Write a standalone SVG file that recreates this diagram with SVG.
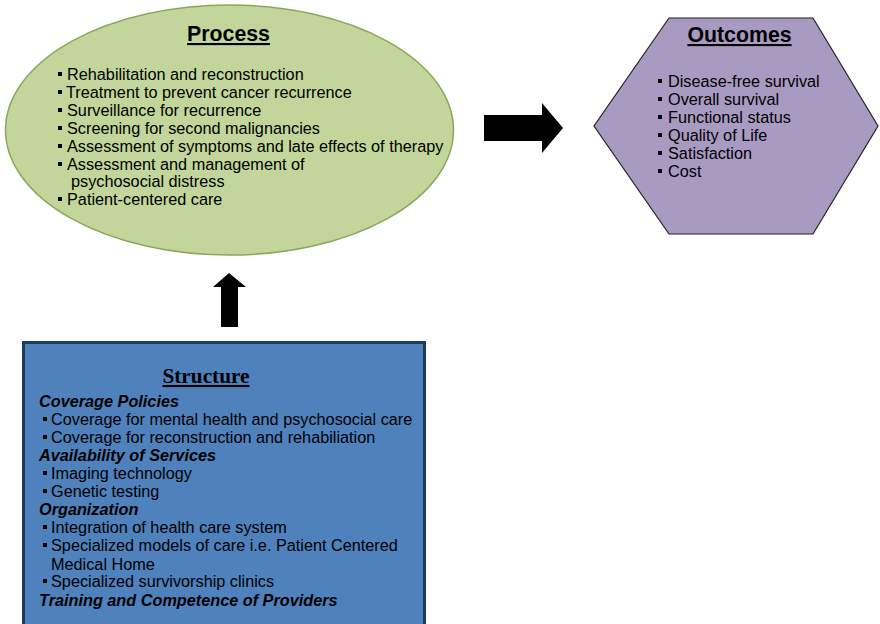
<svg xmlns="http://www.w3.org/2000/svg" width="880" height="624" viewBox="0 0 880 624">
<style>
.t{font-family:"Liberation Sans",Arial,sans-serif;font-size:16.25px;fill:#000}
.h{font-family:"Liberation Sans",Arial,sans-serif;font-size:21.3px;font-weight:bold;text-decoration:underline;fill:#000}
.hs{font-family:"Liberation Serif","Times New Roman",serif;font-size:21.3px;font-weight:bold;text-decoration:underline;fill:#000}
.bi{font-family:"Liberation Sans",Arial,sans-serif;font-size:16.25px;font-weight:bold;font-style:italic;fill:#000}
.b{fill:#000}
</style>
<rect width="880" height="624" fill="#fff"/>
<g id="process">
<ellipse cx="229.5" cy="130" rx="224" ry="125" fill="#c2d69b" stroke="#8ba65d" stroke-width="1.5"/>
<text class="h" x="228.5" y="41" text-anchor="middle">Process</text>
<rect class="b" x="58" y="72" width="4" height="4"/><text class="t" x="67" y="80">Rehabilitation and reconstruction</text>
<rect class="b" x="58" y="90" width="4" height="4"/><text class="t" x="66" y="98">Treatment to prevent cancer recurrence</text>
<rect class="b" x="58" y="108" width="4" height="4"/><text class="t" x="67" y="116">Surveillance for recurrence</text>
<rect class="b" x="58" y="126" width="4" height="4"/><text class="t" x="67" y="134">Screening for second malignancies</text>
<rect class="b" x="58" y="144" width="4" height="4"/><text class="t" x="67" y="152">Assessment of symptoms and late effects of therapy</text>
<rect class="b" x="58" y="162" width="4" height="4"/><text class="t" x="67" y="170">Assessment and management of</text>
<text class="t" x="71" y="187">psychosocial distress</text>
<rect class="b" x="58" y="197" width="4" height="4"/><text class="t" x="67" y="205">Patient-centered care</text>
</g>
<g id="outcomes">
<polygon points="669,18 813,18 878,126 813,234 669,234 594,126" fill="#a99ac2" stroke="#222" stroke-width="1.2"/>
<text class="h" x="739.5" y="42" text-anchor="middle">Outcomes</text>
<rect class="b" x="658" y="79" width="4" height="4"/><text class="t" x="668" y="87">Disease-free survival</text>
<rect class="b" x="658" y="97" width="4" height="4"/><text class="t" x="668" y="105">Overall survival</text>
<rect class="b" x="658" y="115" width="4" height="4"/><text class="t" x="668" y="123">Functional status</text>
<rect class="b" x="658" y="133" width="4" height="4"/><text class="t" x="668" y="141">Quality of Life</text>
<rect class="b" x="658" y="151" width="4" height="4"/><text class="t" x="668" y="159">Satisfaction</text>
<rect class="b" x="658" y="169" width="4" height="4"/><text class="t" x="668" y="177">Cost</text>
</g>
<g id="structure">
<rect x="23.5" y="342.5" width="401" height="290" fill="#4f81bd" stroke="#1f3a5f" stroke-width="3"/>
<text class="hs" x="206" y="383" text-anchor="middle">Structure</text>
<text class="bi" x="39" y="407">Coverage Policies</text>
<rect class="b" x="43" y="417" width="4" height="4"/><text class="t" x="51" y="425">Coverage for mental health and psychosocial care</text>
<rect class="b" x="43" y="435" width="4" height="4"/><text class="t" x="51" y="443">Coverage for reconstruction and rehabiliation</text>
<text class="bi" x="39" y="461">Availability of Services</text>
<rect class="b" x="43" y="471" width="4" height="4"/><text class="t" x="51" y="479">Imaging technology</text>
<rect class="b" x="43" y="489" width="4" height="4"/><text class="t" x="51" y="497">Genetic testing</text>
<text class="bi" x="39" y="515">Organization</text>
<rect class="b" x="43" y="525" width="4" height="4"/><text class="t" x="51" y="533">Integration of health care system</text>
<rect class="b" x="43" y="543" width="4" height="4"/><text class="t" x="51" y="551">Specialized models of care i.e. Patient Centered</text>
<text class="t" x="51" y="570">Medical Home</text>
<rect class="b" x="43" y="579" width="4" height="4"/><text class="t" x="51" y="587">Specialized survivorship clinics</text>
<text class="bi" x="39" y="606">Training and Competence of Providers</text>
</g>
<g id="connectors">
<polygon points="484,115 542,115 542,103 563,128 542,153 542,141 484,141" fill="#000"/>
<polygon points="221,327 221,287 213,287 229,273 246,287 238,287 238,327" fill="#000"/>
</g>
</svg>
